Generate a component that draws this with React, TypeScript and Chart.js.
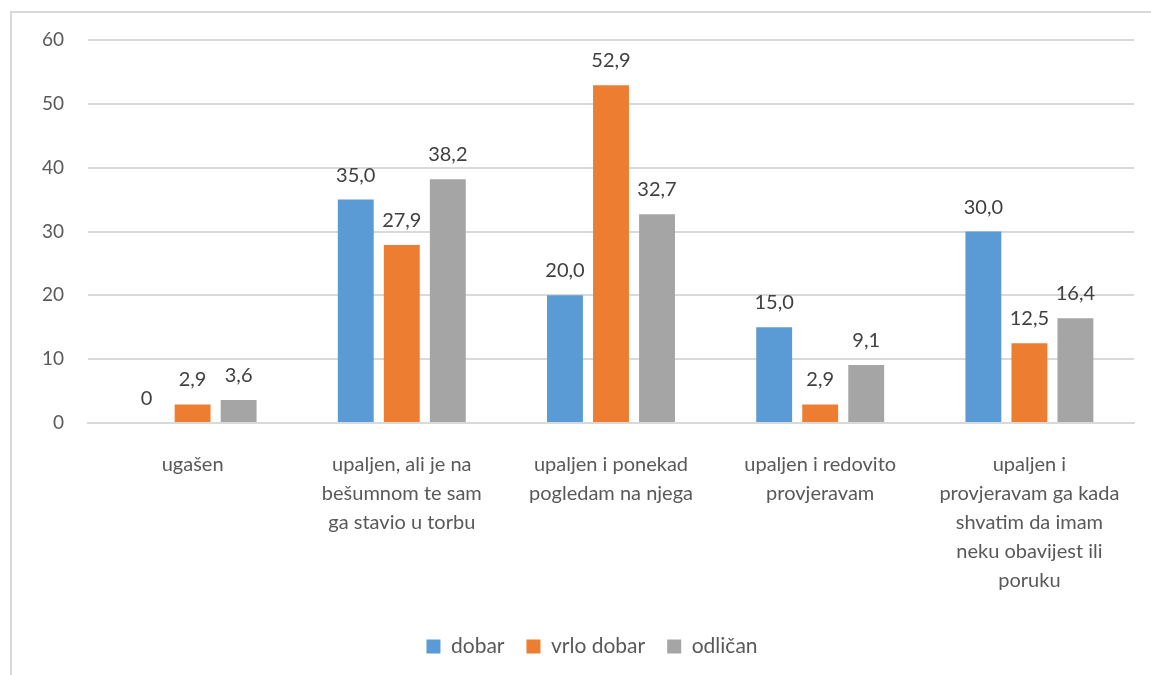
import React, { useEffect, useRef } from "react";
import { Chart, registerables } from "chart.js";

Chart.register(...registerables);

const categories: string[][] = [
  ["ugašen"],
  ["upaljen, ali je na", "bešumnom te sam", "ga stavio u torbu"],
  ["upaljen i ponekad", "pogledam na njega"],
  ["upaljen i redovito", "provjeravam"],
  ["upaljen i", "provjeravam ga kada", "shvatim da imam", "neku obavijest ili", "poruku"],
];
const dobar = [0, 35.0, 20.0, 15.0, 30.0];
const vrloDobar = [2.9, 27.9, 52.9, 2.9, 12.5];
const odlican = [3.6, 38.2, 32.7, 9.1, 16.4];
const seriesNames = ["dobar", "vrlo dobar", "odličan"];
const seriesColors = ["#5B9BD5", "#ED7D31", "#A5A5A5"];

const FONT = "Lato, 'Open Sans', sans-serif";

const bgPlugin = {
  id: "bgBorder",
  beforeDraw(chart: any) {
    const { ctx } = chart;
    ctx.save();
    ctx.fillStyle = "#ffffff";
    ctx.fillRect(0, 0, chart.width, chart.height);
    ctx.strokeStyle = "#D9D9D9";
    ctx.lineWidth = 2;
    ctx.strokeRect(11, 12, chart.width + 20, chart.height + 20);
    ctx.restore();
  },
};

const legendShift = {
  id: "legendShift",
  afterLayout(chart: any) {
    if (chart.legend) {
      chart.legend.left += 25;
      chart.legend.right += 25;
    }
  },
};

const labelPlugin = {
  id: "valueLabels",
  afterDatasetsDraw(chart: any) {
    const { ctx } = chart;
    ctx.save();
    ctx.font = `20px ${FONT}`;
    ctx.fillStyle = "#404040";
    ctx.textAlign = "center";
    ctx.textBaseline = "alphabetic";
    chart.data.datasets.forEach((ds: any, i: number) => {
      const meta = chart.getDatasetMeta(i);
      meta.data.forEach((el: any, j: number) => {
        const v = ds.data[j] as number;
        const txt = v === 0 ? "0" : v.toFixed(1).replace(".", ",");
        ctx.fillText(txt, el.x, el.y - 18);
      });
    });
    ctx.restore();
  },
};

export default function App() {
  const ref = useRef<HTMLCanvasElement | null>(null);
  useEffect(() => {
    if (!ref.current) return;
    const data = [dobar, vrloDobar, odlican];
    const chart = new Chart(ref.current, {
      type: "bar",
      data: {
        labels: categories,
        datasets: data.map((d, i) => ({
          label: seriesNames[i],
          data: d,
          backgroundColor: seriesColors[i],
          borderWidth: 0,
          categoryPercentage: 0.66,
          barPercentage: 0.78,
        })),
      },
      options: {
        animation: false,
        responsive: false,
        maintainAspectRatio: false,
        layout: { padding: { left: 0, right: 17, top: 40, bottom: 8 } },
        plugins: {
          tooltip: { enabled: false },
          legend: {
            position: "bottom",
            labels: {
              boxWidth: 14,
              boxHeight: 14,
              padding: 22,
              color: "#595959",
              font: { family: FONT, size: 21 },
            },
          },
        },
        scales: {
          x: {
            grid: { display: false, drawTicks: false },
            border: { display: true, color: "#D9D9D9", width: 2 },
            ticks: {
              autoSkip: false,
              maxRotation: 0,
              minRotation: 0,
              padding: 27,
              color: "#595959",
              font: { family: FONT, size: 20, lineHeight: 29 / 20 },
            },
            afterFit(scale: any) {
              scale.height = 191;
            },
          },
          y: {
            min: 0,
            max: 60,
            ticks: {
              stepSize: 10,
              padding: 24,
              color: "#595959",
              font: { family: FONT, size: 19 },
            },
            grid: { color: "#D9D9D9", lineWidth: 2, drawTicks: false },
            border: { display: false },
            afterFit(scale: any) {
              scale.width = 88;
            },
          },
        },
      },
      plugins: [bgPlugin, labelPlugin, legendShift],
    });
    return () => chart.destroy();
  }, []);
  return (
    <div style={{ position: "fixed", left: 0, top: 0, width: 1151, height: 675, overflow: "hidden" }}>
      <canvas ref={ref} width={1151} height={675} style={{ width: 1151, height: 675, display: "block" }} />
    </div>
  );
}
